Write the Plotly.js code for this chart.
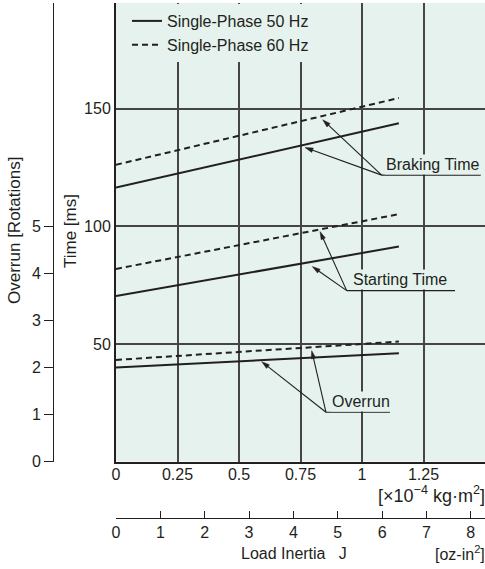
<!DOCTYPE html>
<html>
<head>
<meta charset="utf-8">
<script src="https://cdn.plot.ly/plotly-3.0.1.min.js"></script>
<style>html,body{margin:0;padding:0;background:#fff}#chart{width:485px;height:569px}</style>
</head>
<body>
<div id="chart"></div>
<script>
// Load inertia J [x10^-4 kg·m^2]
var inertia = [0, 1.15];
// Braking time [ms]
var braking50 = [116.5, 143.9];
var braking60 = [126.2, 154.6];
// Starting time [ms]
var starting50 = [70.4, 91.4];
var starting60 = [81.9, 105.2];
// Overrun [rotations]
var overrun50 = [2.0, 2.30];
var overrun60 = [2.16, 2.55];

var kgTicks = [0, 0.25, 0.5, 0.75, 1, 1.25];
var kgTickText = ['0', '0.25', '0.5', '0.75', '1', '1.25'];
var ozTicks = [0, 1, 2, 3, 4, 5, 6, 7, 8];
var timeTicks = [50, 100, 150];
var overrunTicks = [0, 1, 2, 3, 4, 5];

var FONT = 'Liberation Sans, Arial, sans-serif';
var TXT = '#231f20';
var GRID = '#454545';
var BG = '#e5f2ed';
var W = 485, H = 569;

var solid = {color: TXT, width: 2};
var dashed = {color: TXT, width: 2, dash: '6px,4px'};

var traces = [
  {x: inertia, y: braking50, mode: 'lines', line: solid, name: 'Single-Phase 50 Hz', showlegend: true, hoverinfo: 'skip'},
  {x: inertia, y: braking60, mode: 'lines', line: dashed, name: 'Single-Phase 60 Hz', showlegend: true, hoverinfo: 'skip'},
  {x: inertia, y: starting50, mode: 'lines', line: solid, showlegend: false, hoverinfo: 'skip'},
  {x: inertia, y: starting60, mode: 'lines', line: dashed, showlegend: false, hoverinfo: 'skip'},
  {x: inertia, y: overrun50, mode: 'lines', line: solid, yaxis: 'y2', showlegend: false, hoverinfo: 'skip'},
  {x: inertia, y: overrun60, mode: 'lines', line: dashed, yaxis: 'y2', showlegend: false, hoverinfo: 'skip'},
  // carrier so the oz-in^2 scale axis is drawn (no visible marks)
  {x: ozTicks, y: ozTicks.map(function () { return null; }), mode: 'lines', xaxis: 'x2', yaxis: 'y', showlegend: false, hoverinfo: 'skip'}
];

function px2x(p) { return (p - 116) / 246; }
function px2y(p) { return (461.5 - p) / 2.35; }

var annotations = [];
var shapes = [];
function arrow(tx, ty, hx, hy) {
  var dx = hx - tx, dy = hy - ty, len = Math.sqrt(dx * dx + dy * dy);
  var ux = dx / len, uy = dy / len, L = 8, w = 2.3;
  var bx = hx - ux * L, by = hy - uy * L;
  shapes.push({type: 'line', xref: 'x', yref: 'y', x0: px2x(tx), y0: px2y(ty), x1: px2x(bx + ux * 2), y1: px2y(by + uy * 2),
    line: {color: TXT, width: 1.1}});
  var p = 'M' + px2x(hx) + ',' + px2y(hy) +
    ' L' + px2x(bx - uy * w) + ',' + px2y(by + ux * w) +
    ' L' + px2x(bx + uy * w) + ',' + px2y(by - ux * w) + ' Z';
  shapes.push({type: 'path', xref: 'x', yref: 'y', path: p, fillcolor: TXT, line: {color: TXT, width: 0.5}});
}
function label(text, left, cy, ulx0, ulx1, uly, heads) {
  annotations.push({x: px2x(left), y: px2y(cy), xref: 'x', yref: 'y', text: text, showarrow: false,
    xanchor: 'left', yanchor: 'middle', bgcolor: BG, borderpad: 1, font: {family: FONT, size: 16, color: TXT}});
  shapes.push({type: 'line', xref: 'x', yref: 'y', x0: px2x(ulx0), x1: px2x(ulx1), y0: px2y(uly), y1: px2y(uly),
    line: {color: TXT, width: 1.2}});
  heads.forEach(function (h) { arrow(ulx0, uly, h[0], h[1]); });
}
label('Braking Time', 384, 165, 381.7, 480.7, 175.3, [[322.7, 120], [305, 147.7]]);
label('Starting Time', 351, 280, 346.7, 455, 290.7, [[320, 231.7], [312.3, 266.7]]);
label('Overrun', 329.5, 402, 326, 390, 412.3, [[261.7, 361.7], [311.7, 350.7]]);

function paperAnn(text, x, y, xanchor, angle, size) {
  annotations.push({x: x / W, y: 1 - y / H, xref: 'paper', yref: 'paper', text: text, showarrow: false,
    xanchor: xanchor, yanchor: 'middle', textangle: angle || 0, font: {family: FONT, size: size || 16, color: TXT}});
}
paperAnn('Overrun [Rotations]', 14, 231, 'center', -90, 17);
paperAnn('Time [ms]', 70, 231, 'center', -90, 17);
paperAnn('[×10<sup>−4</sup> kg·m<sup>2</sup>]', 487, 494, 'right', 0, 18);
paperAnn('Load Inertia   J', 294, 553, 'center', 0, 16);
paperAnn('[oz-in<sup>2</sup>]', 487, 553, 'right', 0, 16);

var tickFont = {family: FONT, size: 16, color: TXT};
var layout = {
  width: W, height: H,
  margin: {l: 0, r: 0, t: 0, b: 0, pad: 0},
  paper_bgcolor: '#ffffff',
  plot_bgcolor: BG,
  font: {family: FONT, size: 16, color: TXT},
  showlegend: true,
  legend: {x: 127 / W, y: 1 - 33 / H, xanchor: 'left', yanchor: 'middle', bgcolor: BG, borderwidth: 0,
    font: {family: FONT, size: 16, color: TXT}, tracegroupgap: 0},
  xaxis: {domain: [116 / W, 1], range: [0, 1.5], tickvals: kgTicks, ticktext: kgTickText, ticks: '',
    showgrid: true, gridcolor: GRID, gridwidth: 2, showline: true, linecolor: TXT, linewidth: 2,
    zeroline: false, tickfont: tickFont, ticklabelstandoff: -3, automargin: false, fixedrange: true},
  xaxis2: {overlaying: 'x', anchor: 'free', position: 1 - 517.7 / H, side: 'bottom', domain: [116 / W, 1],
    range: [0, 8.32], tickvals: ozTicks, ticks: 'inside', ticklen: 7, tickwidth: 1, tickcolor: TXT,
    showgrid: false, showline: true, linecolor: TXT, linewidth: 1, zeroline: false, tickfont: tickFont, automargin: false},
  yaxis: {domain: [1 - 461.5 / H, 1 - 3 / H], range: [0, 195], tickvals: timeTicks, ticks: '',
    showgrid: true, gridcolor: GRID, gridwidth: 2, showline: true, linecolor: TXT, linewidth: 2,
    zeroline: false, tickfont: tickFont, automargin: false},
  yaxis2: {overlaying: 'y', anchor: 'free', position: 53 / W, side: 'left', range: [0, 9.75],
    tickvals: overrunTicks, ticks: 'outside', ticklen: 9, tickwidth: 1, tickcolor: TXT,
    showgrid: false, showline: true, linecolor: TXT, linewidth: 1, zeroline: false, tickfont: tickFont, automargin: false},
  annotations: annotations,
  shapes: shapes
};

Plotly.newPlot('chart', traces, layout, {displayModeBar: false});
</script>
</body>
</html>
